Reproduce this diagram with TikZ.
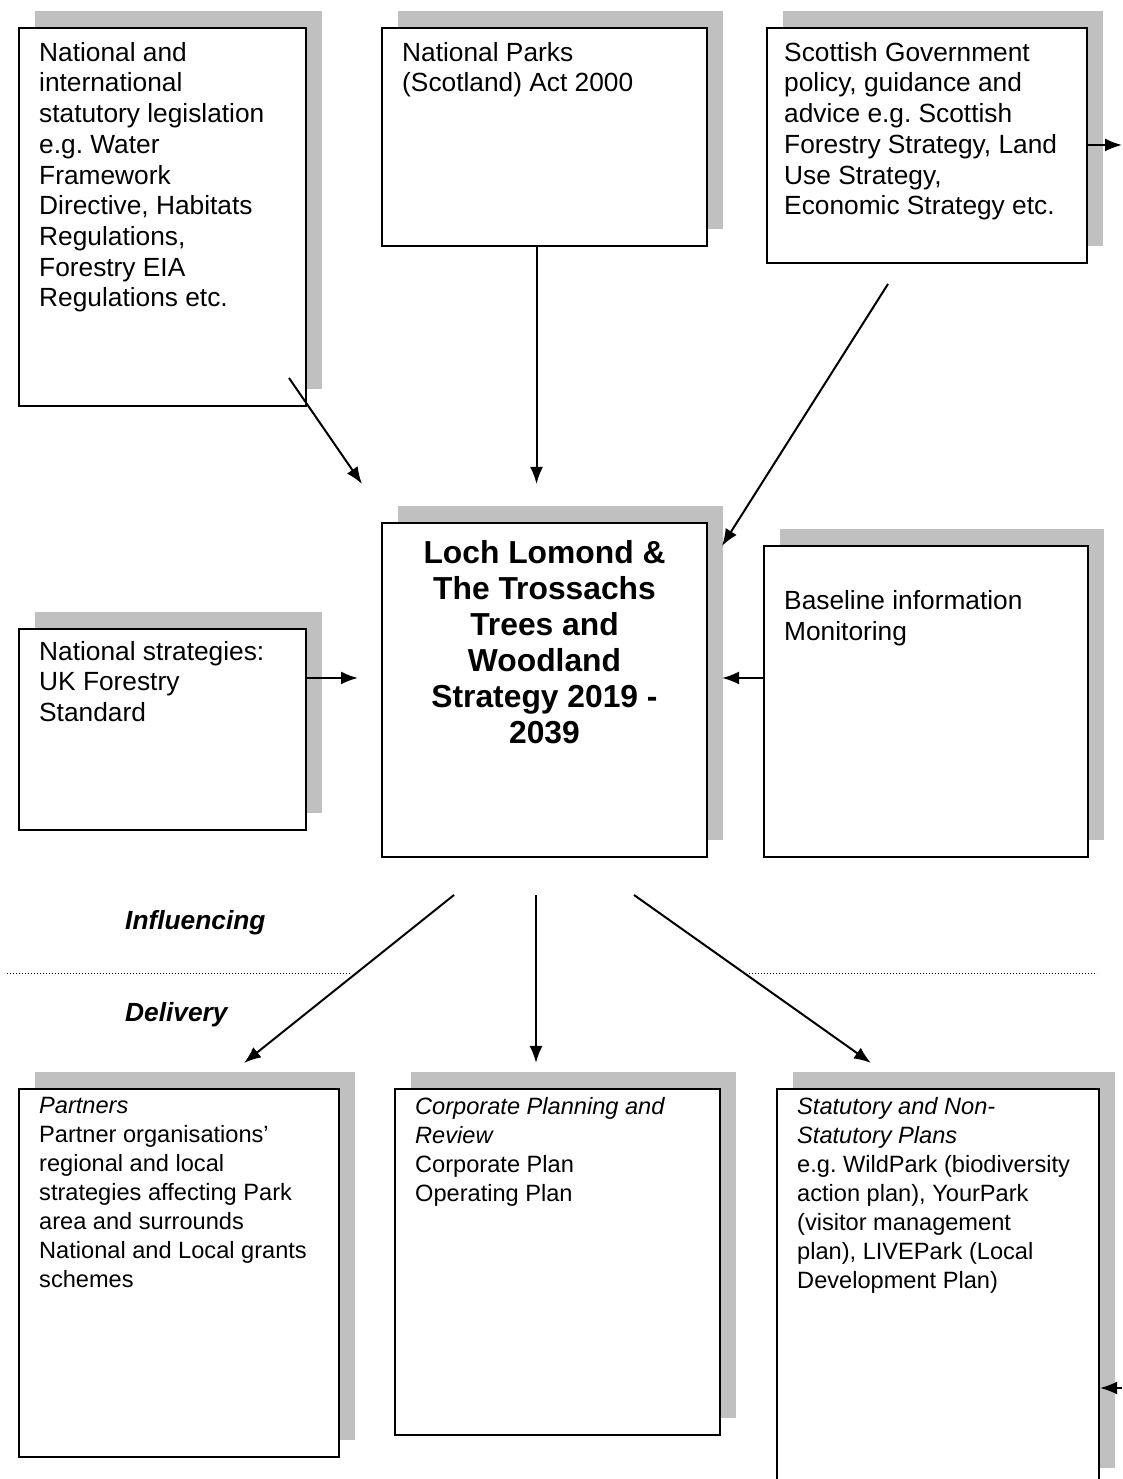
\documentclass[tikz,border=0pt]{standalone}
\usepackage{fontspec}
\setmainfont{Liberation Sans}
\usetikzlibrary{arrows.meta,shadows}
\definecolor{shadowgrey}{RGB}{192,192,192}
\frenchspacing

\begin{document}
\begin{tikzpicture}[x=1pt, y=1pt, >={Latex[length=17pt,width=13pt]},
    panel/.style={draw, line width=2pt, fill=white, inner sep=0pt, anchor=north west,
        drop shadow={shadow xshift=16pt, shadow yshift=17pt, fill=shadowgrey, opacity=1}},
    blurb/.style={anchor=north west, align=left, inner xsep=21pt, inner ysep=15pt,
        font=\fontsize{26.3}{30.7}\selectfont},
    small blurb/.style={blurb, inner ysep=9pt, font=\fontsize{23.6}{29}\selectfont},
    heading/.style={anchor=base west, inner sep=0pt, font=\bfseries\itshape\fontsize{26.3}{30}\selectfont},
    link/.style={->, line width=2pt}]
\useasboundingbox (0,0) rectangle (1122,1479);

% influences
\node[panel, minimum width=287pt, minimum height=378pt] (legis) at (18,1452) {};
\node[blurb] (legistext) at (legis.north west) {National and\\international\\statutory legislation\\e.g. Water\\Framework\\Directive, Habitats\\Regulations,\\Forestry EIA\\Regulations etc.};
\node[panel, minimum width=325pt, minimum height=218pt] (parks) at (381,1452) {};
\node[blurb] (parkstext) at (parks.north west) {National Parks\\(Scotland) Act 2000};
\node[panel, minimum width=320pt, minimum height=235pt] (govt) at (766,1452) {};
\node[blurb, inner xsep=18pt] (govttext) at (govt.north west) {Scottish Government\\policy, guidance and\\advice e.g. Scottish\\Forestry Strategy, Land\\Use Strategy,\\Economic Strategy etc.};
\node[panel, minimum width=287pt, minimum height=201pt] (natstrat) at (18,851) {};
\node[blurb, inner ysep=13pt] (natstrattext) at (natstrat.north west) {National strategies:\\UK Forestry\\Standard};
\node[panel, minimum width=324pt, minimum height=311pt] (baseline) at (763,934) {};
\node[blurb, yshift=-30.7pt] (baselinetext) at (baseline.north west) {Baseline information\\Monitoring};

% the strategy
\node[panel, minimum width=325pt, minimum height=334pt] (centre) at (381,957) {};
\node[anchor=north, align=center, inner ysep=18pt, font=\bfseries\fontsize{31.8}{36}\selectfont] (centretext) at (centre.north) {Loch Lomond \&\\The Trossachs\\Trees and\\Woodland\\Strategy 2019 -\\2039};

% delivery
\node[panel, minimum width=320pt, minimum height=368pt] (partners) at (18,391) {};
\node[small blurb] (partnerstext) at (partners.north west) {\textit{Partners}\\Partner organisations'\\regional and local\\strategies affecting Park\\area and surrounds\\National and Local grants\\schemes};
\node[panel, minimum width=325pt, minimum height=346pt] (corporate) at (394,391) {};
\node[small blurb] (corporatetext) at (corporate.north west) {\textit{Corporate Planning and}\\\textit{Review}\\Corporate Plan\\Operating Plan};
\node[panel, minimum width=322pt, minimum height=396pt] (statutory) at (776,391) {};
\node[small blurb] (statutorytext) at (statutory.north west) {\textit{Statutory and Non-}\\\textit{Statutory Plans}\\e.g. WildPark (biodiversity\\action plan), YourPark\\(visitor management\\plan), LIVEPark (Local\\Development Plan)};

\node[heading] (influencing) at (125,549) {Influencing};
\node[heading] (delivery) at (125,457) {Delivery};
\draw[line width=1pt, dash pattern=on 1pt off 2pt] (7,505) -- (350,505) (749,505) -- (1097,505);

\draw[link] ([shift={(-18,29)}]legis.south east) -- ([shift={(-19,38)}]centre.north west);
\draw[link] ([xshift=-8pt]parks.south) -- ([shift={(-8,38)}]centre.north);
\draw[link] ([shift={(-39,-20)}]govt.south) -- ([shift={(14,-24)}]centre.north east);
\draw[link] ([yshift=-50pt]natstrat.north east) -- ([shift={(-23,-156)}]centre.north west);
\draw[link] ([yshift=-133pt]baseline.north west) -- ([shift={(14,-156)}]centre.north east);
\coordinate (outright) at (1122,1334);
\draw[link] ([yshift=-118pt]govt.north east) -- (outright);
\coordinate (inright) at (1122,91);
\draw[link] (inright) -- (inright -| statutory.east);
\foreach \from/\to/\target in {-90.5/65/partners, -8.5/-21.5/corporate, 89.5/-67/statutory}
    \draw[link] ([shift={(\from,-37)}]centre.south) -- ([shift={(\to,25)}]\target.north);
\end{tikzpicture}
\end{document}
